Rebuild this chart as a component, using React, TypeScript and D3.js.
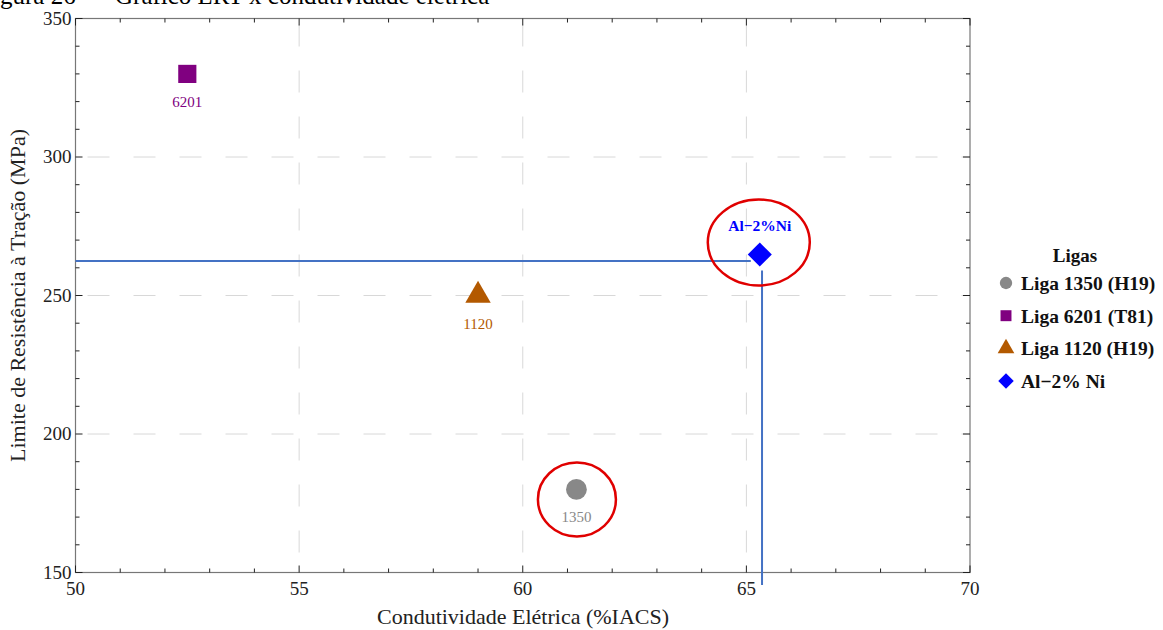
import React from 'react';
import * as d3 from 'd3';

// - Data
const alloys = ['1350', '6201', '1120', 'Al-2%Ni'];
const legendNames = ['Liga 1350 (H19)', 'Liga 6201 (T81)', 'Liga 1120 (H19)', 'Al\u22122% Ni'];
const pointLabels = ['1350', '6201', '1120', 'Al\u22122%Ni'];
const conductivity = [61.2, 52.5, 59.0, 65.3];
const tensile = [180, 330, 250, 264.8];
const colors = ['#888888', '#800080', '#b35900', '#0000ff'];
const xTicks = [50, 55, 60, 65, 70];
const yTicks = [150, 200, 250, 300, 350];
const refX = 65.35;
const refY = 262.5;

const W = 1163, H = 630;
const margin = { left: 75.5, right: 970, top: 18.5, bottom: 572.5 };

// diamond = square turned 45 degrees
const diamond = { draw(ctx: any, size: number) { const r = Math.sqrt(size / 2); ctx.moveTo(0, -r); ctx.lineTo(r, 0); ctx.lineTo(0, r); ctx.lineTo(-r, 0); ctx.closePath(); } };
const shapes = [d3.symbolCircle, d3.symbolSquare, d3.symbolTriangle, diamond];

export default function App()
{
	const x = d3.scaleLinear().domain([50, 70]).range([margin.left, margin.right]);
	const y = d3.scaleLinear().domain([150, 350]).range([margin.bottom, margin.top]);

	const minorX = d3.range(50, 70.01, 1);
	const minorY = d3.range(150, 350.01, 10);
	const sizes = [340, 330, 280, 290];
	const serif = '"Liberation Serif", "Times New Roman", serif';

	const pt = (i: number) => [x(conductivity[i]), y(tensile[i])];

	return (
		<div style={{ position: 'absolute', left: 0, top: 0 }}>
			<svg width={W} height={H} style={{ display: 'block', fontFamily: serif }}>
				<rect width={W} height={H} fill="white" />
				<text x={0} y={4} fontSize={25}>gura 26 –</text>
				<text x={115} y={4} fontSize={25}>Gráfico LRT x condutividade elétrica</text>

				{/* grid */}
				{xTicks.slice(1, -1).map(t => (
					<line key={'gx' + t} x1={x(t)} x2={x(t)} y1={margin.top} y2={margin.bottom}
						stroke="#d8d8d8" strokeWidth={1} strokeDasharray="22,24" strokeDashoffset={-6} />
				))}
				{yTicks.slice(1, -1).map(t => (
					<line key={'gy' + t} x1={margin.left} x2={margin.right} y1={y(t)} y2={y(t)}
						stroke="#d8d8d8" strokeWidth={1} strokeDasharray="22,24" strokeDashoffset={-12} />
				))}

				{/* frame */}
				<rect x={margin.left} y={margin.top} width={margin.right - margin.left} height={margin.bottom - margin.top}
					fill="none" stroke="#777" strokeWidth={1.2} />

				{/* ticks */}
				{minorX.map(t => {
					const len = t % 5 === 0 ? 7 : 4;
					return (
						<g key={'tx' + t} stroke="#222" strokeWidth={1}>
							<line x1={x(t)} x2={x(t)} y1={margin.bottom} y2={margin.bottom - len} />
							<line x1={x(t)} x2={x(t)} y1={margin.top} y2={margin.top + len} />
						</g>
					);
				})}
				{minorY.map(t => {
					const len = t % 50 === 0 ? 7 : 4;
					return (
						<g key={'ty' + t} stroke="#222" strokeWidth={1}>
							<line x1={margin.left} x2={margin.left + len} y1={y(t)} y2={y(t)} />
							<line x1={margin.right} x2={margin.right - len} y1={y(t)} y2={y(t)} />
						</g>
					);
				})}

				{/* tick labels */}
				{xTicks.map(t => (
					<text key={'lx' + t} x={x(t)} y={margin.bottom + 22} fontSize={19} textAnchor="middle" fill="#222">{t}</text>
				))}
				{yTicks.map(t => (
					<text key={'ly' + t} x={margin.left - 4} y={y(t) + 6} fontSize={19} textAnchor="end" fill="#222">{t}</text>
				))}

				{/* axis titles */}
				<text x={523} y={624} fontSize={22} textAnchor="middle" fill="#222">
					Condutividade Elétrica (%IACS)
				</text>
				<text transform={`translate(25,${(margin.top + margin.bottom) / 2}) rotate(-90)`} fontSize={22} textAnchor="middle" fill="#222">
					Limite de Resistência à Tração (MPa)
				</text>

				{/* reference lines */}
				<line x1={margin.left} x2={x(conductivity[3]) - 9} y1={y(refY)} y2={y(refY)} stroke="#4472c4" strokeWidth={2} />
				<line x1={x(refX)} x2={x(refX)} y1={y(tensile[3]) + 16} y2={585} stroke="#4472c4" strokeWidth={2} />

				{/* points */}
				{alloys.map((a, i) => {
					const [px, py] = pt(i);
					return (
						<path key={a} d={d3.symbol().type(shapes[i] as any).size(sizes[i])() || ''}
							transform={`translate(${px},${py})`} fill={colors[i]} />
					);
				})}

				{/* point labels */}
				{alloys.map((a, i) => {
					const [px, py] = pt(i);
					const isNi = i === 3;
					return (
						<text key={'pl' + a} x={px} y={isNi ? py - 24 : py + 33} fontSize={isNi ? 15.5 : 15}
							fontWeight={isNi ? 'bold' : 'normal'} textAnchor="middle" fill={colors[i]}>
							{pointLabels[i]}
						</text>
					);
				})}

				{/* highlight ellipses */}
				<ellipse cx={pt(0)[0] + 0.5} cy={pt(0)[1] + 10} rx={39} ry={37} fill="none" stroke="#e00000" strokeWidth={2.5} />
				<ellipse cx={pt(3)[0] - 1} cy={pt(3)[1] - 12} rx={51} ry={43} fill="none" stroke="#e00000" strokeWidth={2.5} />

				{/* legend */}
				<text x={1075} y={262} fontSize={19} fontWeight="bold" textAnchor="middle" fill="#111">Ligas</text>
				{legendNames.map((n, i) => {
					const ly = 283 + i * 32.7;
					return (
						<g key={'lg' + i}>
							<path d={d3.symbol().type(shapes[i] as any).size(120)() || ''} transform={`translate(1006,${ly})`} fill={colors[i]} />
							<text x={1021} y={ly + 7} fontSize={19.5} fontWeight="bold" fill="#111">{n}</text>
						</g>
					);
				})}
			</svg>
		</div>
	);
}
